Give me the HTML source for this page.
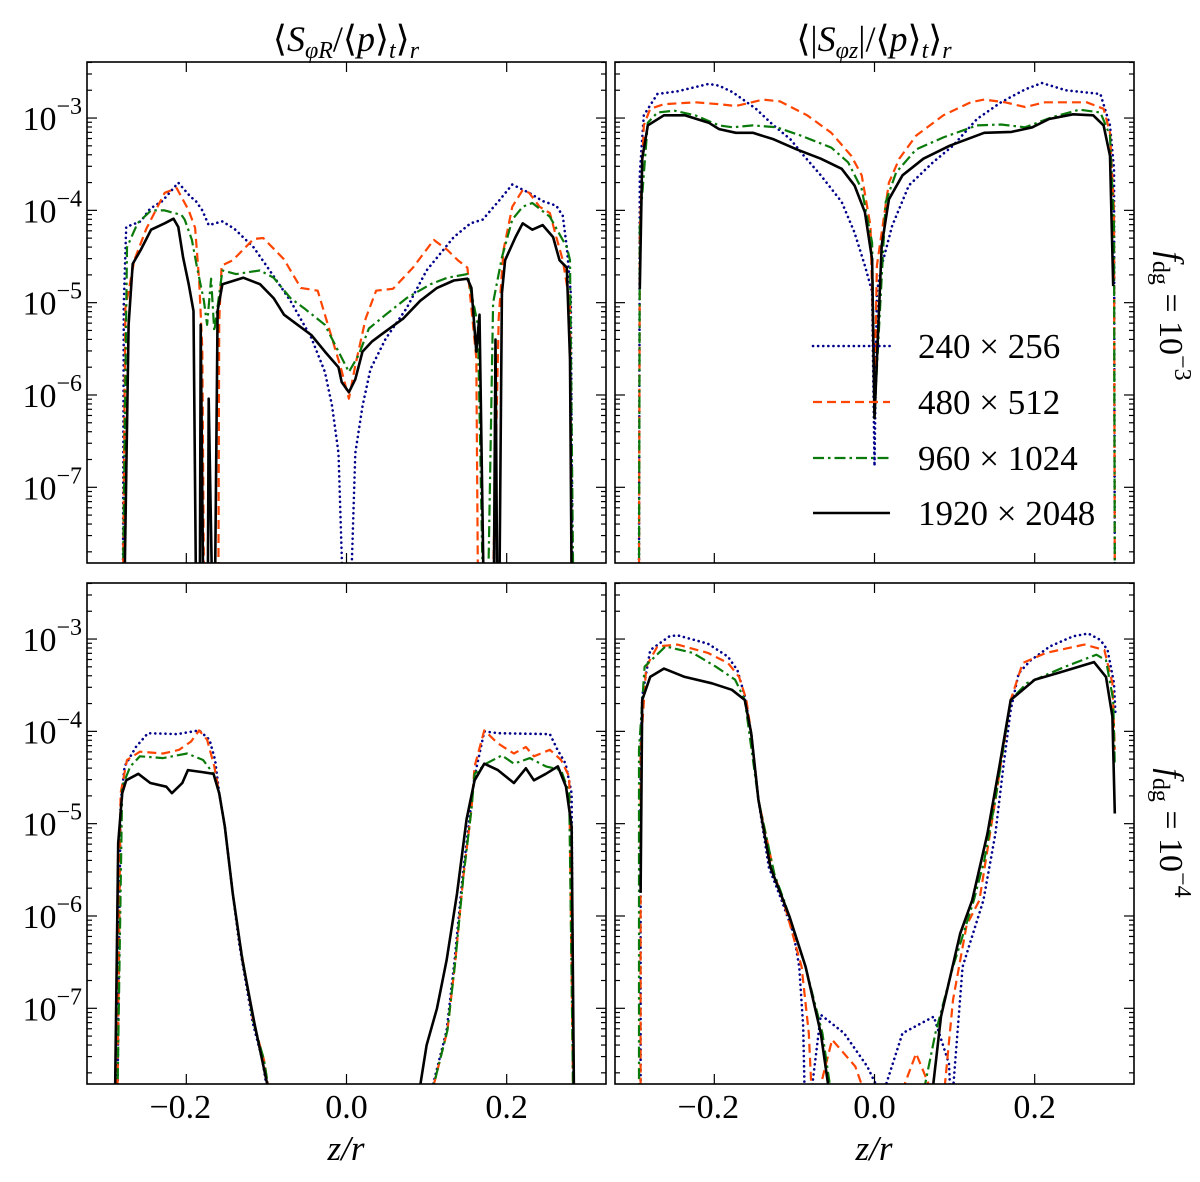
<!DOCTYPE html>
<html><head><meta charset="utf-8"><style>
html,body{margin:0;padding:0;background:#fff}
svg{display:block}
svg text{font-family:"Liberation Serif","DejaVu Serif",serif;fill:#000}
</style></head><body>
<svg id="fig" width="1200" height="1182" viewBox="0 0 1200 1182" font-family="'Liberation Serif', 'DejaVu Serif', serif" xmlns="http://www.w3.org/2000/svg"></svg>
<script>
// ---- data (z/r, log10 value) ----
const xTicks = [-0.2, 0.0, 0.2];
const xTickLabels = ["\u22120.2", "0.0", "0.2"];
const yDecades = [-3, -4, -5, -6, -7];
const seriesNames = ["240 \u00d7 256", "480 \u00d7 512", "960 \u00d7 1024", "1920 \u00d7 2048"];

const tlBlue = [[-0.279,-8],[-0.278,-5.0],[-0.275,-4.18],[-0.257,-4.12],[-0.245,-3.98],[-0.23,-3.9],[-0.21,-3.70],[-0.195,-3.85],[-0.188,-3.90],[-0.18,-4.0],[-0.172,-4.16],[-0.155,-4.12],[-0.14,-4.2],[-0.116,-4.40],[-0.1,-4.6],[-0.07,-4.98],[-0.044,-5.38],[-0.027,-5.75],[-0.018,-6.12],[-0.01,-6.63],[-0.005,-8],[0.006,-8],[0.011,-6.63],[0.02,-6.12],[0.03,-5.72],[0.049,-5.39],[0.075,-5.06],[0.1,-4.65],[0.134,-4.29],[0.155,-4.14],[0.17,-4.10],[0.19,-3.9],[0.207,-3.72],[0.228,-3.81],[0.245,-3.9],[0.262,-3.95],[0.27,-4.06],[0.275,-4.4],[0.28,-4.9],[0.282,-8]];
const tlRed = [[-0.279,-8],[-0.276,-5.06],[-0.265,-4.54],[-0.25,-4.2],[-0.227,-3.81],[-0.212,-3.76],[-0.197,-4.0],[-0.189,-4.19],[-0.184,-4.75],[-0.18,-5.5],[-0.178,-8],[-0.16,-8],[-0.159,-5.2],[-0.156,-4.6],[-0.142,-4.54],[-0.116,-4.31],[-0.104,-4.30],[-0.078,-4.53],[-0.057,-4.84],[-0.036,-4.87],[-0.018,-5.39],[-0.006,-5.74],[0.003,-6.04],[0.011,-5.68],[0.024,-5.17],[0.037,-4.87],[0.058,-4.85],[0.083,-4.62],[0.109,-4.32],[0.126,-4.43],[0.139,-4.54],[0.151,-4.62],[0.162,-5.6],[0.164,-8],[0.183,-8],[0.19,-5.17],[0.196,-4.43],[0.207,-3.96],[0.22,-3.78],[0.228,-3.81],[0.241,-3.96],[0.254,-4.03],[0.262,-4.29],[0.27,-4.54],[0.279,-5.02],[0.281,-8]];
const tlGreen = [[-0.279,-8],[-0.274,-4.40],[-0.261,-4.14],[-0.244,-4.0],[-0.227,-4.0],[-0.206,-4.05],[-0.202,-4.10],[-0.193,-4.32],[-0.187,-4.60],[-0.178,-4.98],[-0.174,-5.24],[-0.169,-4.74],[-0.165,-5.31],[-0.155,-4.65],[-0.138,-4.69],[-0.108,-4.65],[-0.091,-4.73],[-0.07,-4.95],[-0.053,-5.06],[-0.027,-5.24],[-0.01,-5.53],[0.003,-5.75],[0.015,-5.57],[0.028,-5.28],[0.049,-5.13],[0.075,-4.95],[0.105,-4.80],[0.126,-4.73],[0.151,-4.69],[0.164,-5.24],[0.17,-8],[0.177,-8],[0.183,-5.0],[0.194,-4.51],[0.207,-4.10],[0.22,-3.96],[0.232,-3.92],[0.254,-4.07],[0.275,-4.40],[0.279,-4.54],[0.283,-8]];
const tlBlack = [[-0.277,-8],[-0.272,-5.24],[-0.267,-4.58],[-0.257,-4.43],[-0.244,-4.21],[-0.227,-4.14],[-0.216,-4.09],[-0.21,-4.18],[-0.204,-4.51],[-0.197,-4.80],[-0.191,-5.09],[-0.188,-8],[-0.183,-8],[-0.182,-5.24],[-0.179,-8],[-0.173,-8],[-0.172,-6.04],[-0.168,-8],[-0.164,-8],[-0.161,-5.09],[-0.155,-4.80],[-0.129,-4.73],[-0.108,-4.80],[-0.091,-4.95],[-0.078,-5.13],[-0.061,-5.24],[-0.044,-5.35],[-0.027,-5.53],[-0.01,-5.70],[-0.006,-5.86],[0.003,-5.97],[0.011,-5.83],[0.02,-5.53],[0.032,-5.42],[0.049,-5.31],[0.071,-5.17],[0.092,-4.98],[0.113,-4.84],[0.134,-4.76],[0.151,-4.74],[0.156,-4.84],[0.162,-5.53],[0.166,-5.13],[0.171,-8],[0.184,-8],[0.186,-5.4],[0.188,-8],[0.191,-8],[0.194,-4.9],[0.198,-4.54],[0.211,-4.29],[0.22,-4.14],[0.232,-4.21],[0.245,-4.16],[0.258,-4.29],[0.266,-4.54],[0.275,-4.62],[0.279,-5.61],[0.281,-8]];

const trBlue = [[-0.294,-8],[-0.293,-3.6],[-0.288,-2.97],[-0.271,-2.74],[-0.246,-2.71],[-0.207,-2.63],[-0.194,-2.65],[-0.177,-2.72],[-0.148,-2.90],[-0.126,-3.08],[-0.105,-3.23],[-0.088,-3.41],[-0.067,-3.62],[-0.041,-3.91],[-0.025,-4.24],[-0.012,-4.60],[-0.003,-4.88],[0,-6.77],[0.003,-4.88],[0.009,-4.60],[0.022,-4.17],[0.043,-3.73],[0.073,-3.48],[0.098,-3.30],[0.128,-3.01],[0.158,-2.83],[0.188,-2.69],[0.209,-2.62],[0.239,-2.70],[0.282,-2.74],[0.294,-3.08],[0.299,-3.55],[0.300,-8]];
const trRed = [[-0.294,-8],[-0.293,-4.24],[-0.288,-3.08],[-0.280,-2.90],[-0.263,-2.85],[-0.224,-2.83],[-0.194,-2.85],[-0.173,-2.87],[-0.139,-2.80],[-0.118,-2.82],[-0.084,-2.97],[-0.054,-3.16],[-0.029,-3.41],[-0.016,-3.62],[-0.005,-4.17],[0,-6.0],[0.003,-4.6],[0.018,-3.70],[0.031,-3.44],[0.052,-3.19],[0.086,-2.97],[0.120,-2.83],[0.137,-2.80],[0.163,-2.83],[0.188,-2.88],[0.213,-2.83],[0.265,-2.83],[0.286,-2.90],[0.294,-3.16],[0.299,-4.0],[0.300,-8]];
const trGreen = [[-0.294,-8],[-0.293,-4.17],[-0.283,-3.05],[-0.271,-2.94],[-0.250,-2.92],[-0.224,-2.97],[-0.194,-3.08],[-0.177,-3.10],[-0.152,-3.08],[-0.122,-3.10],[-0.092,-3.19],[-0.054,-3.32],[-0.033,-3.48],[-0.016,-3.77],[-0.003,-4.35],[0,-6.2],[0.014,-3.91],[0.027,-3.59],[0.052,-3.34],[0.086,-3.21],[0.128,-3.08],[0.158,-3.07],[0.188,-3.10],[0.222,-2.99],[0.256,-2.91],[0.282,-2.94],[0.294,-3.19],[0.299,-4.17],[0.300,-8]];
const trBlack = [[-0.293,-4.85],[-0.290,-3.44],[-0.283,-3.08],[-0.263,-2.97],[-0.237,-2.97],[-0.207,-3.05],[-0.194,-3.12],[-0.173,-3.16],[-0.152,-3.16],[-0.126,-3.23],[-0.097,-3.34],[-0.067,-3.44],[-0.041,-3.55],[-0.025,-3.73],[-0.012,-4.02],[-0.003,-4.53],[0,-6.25],[0.009,-4.38],[0.018,-3.88],[0.035,-3.62],[0.061,-3.44],[0.094,-3.30],[0.137,-3.16],[0.171,-3.15],[0.197,-3.10],[0.218,-3.01],[0.248,-2.96],[0.273,-2.97],[0.286,-3.08],[0.294,-3.41],[0.298,-4.82]];

const blBlue = [[-0.286,-8],[-0.282,-4.78],[-0.277,-4.38],[-0.263,-4.17],[-0.248,-4.02],[-0.211,-4.03],[-0.184,-3.99],[-0.171,-4.09],[-0.164,-4.31],[-0.159,-4.67],[-0.152,-5.03],[-0.142,-5.76],[-0.134,-6.30],[-0.117,-7.16],[-0.105,-7.56],[-0.097,-8],[0.103,-8],[0.125,-7.24],[0.135,-6.48],[0.1449,-5.57],[0.1548,-4.85],[0.1598,-4.49],[0.1647,-4.3],[0.172,-4.0],[0.1894,-4.02],[0.254,-4.03],[0.2635,-4.2],[0.2735,-4.35],[0.281,-4.67],[0.2833,-8]];
const blRed = [[-0.286,-8],[-0.282,-4.67],[-0.274,-4.31],[-0.258,-4.22],[-0.229,-4.24],[-0.209,-4.20],[-0.194,-4.11],[-0.184,-3.99],[-0.174,-4.09],[-0.165,-4.38],[-0.159,-4.67],[-0.152,-5.03],[-0.142,-5.76],[-0.133,-6.30],[-0.116,-7.16],[-0.103,-7.56],[-0.095,-8],[0.104,-8],[0.126,-7.24],[0.136,-6.48],[0.146,-5.57],[0.156,-4.85],[0.16,-4.38],[0.172,-3.99],[0.189,-4.13],[0.209,-4.24],[0.224,-4.17],[0.234,-4.27],[0.254,-4.20],[0.268,-4.31],[0.278,-4.49],[0.283,-8]];
const blGreen = [[-0.286,-8],[-0.28,-4.60],[-0.27,-4.38],[-0.258,-4.27],[-0.229,-4.29],[-0.199,-4.24],[-0.179,-4.31],[-0.166,-4.46],[-0.159,-4.67],[-0.152,-5.03],[-0.142,-5.76],[-0.133,-6.30],[-0.116,-7.16],[-0.103,-7.56],[-0.095,-8],[0.104,-8],[0.126,-7.24],[0.136,-6.48],[0.146,-5.57],[0.156,-4.85],[0.16,-4.46],[0.174,-4.35],[0.194,-4.26],[0.209,-4.35],[0.229,-4.29],[0.249,-4.38],[0.268,-4.42],[0.278,-4.67],[0.283,-8]];
const blBlack = [[-0.289,-8],[-0.285,-5.21],[-0.280,-4.67],[-0.275,-4.53],[-0.260,-4.46],[-0.245,-4.56],[-0.225,-4.60],[-0.218,-4.67],[-0.205,-4.56],[-0.198,-4.42],[-0.181,-4.44],[-0.166,-4.46],[-0.159,-4.67],[-0.152,-5.03],[-0.142,-5.76],[-0.13,-6.48],[-0.115,-7.16],[-0.099,-7.82],[-0.096,-8],[0.089,-8],[0.1,-7.4],[0.113,-7.0],[0.125,-6.48],[0.138,-5.76],[0.15,-4.95],[0.16,-4.53],[0.172,-4.35],[0.189,-4.42],[0.209,-4.56],[0.224,-4.40],[0.234,-4.53],[0.249,-4.46],[0.264,-4.38],[0.274,-4.60],[0.281,-5.03],[0.284,-8]];

const brBlue = [[-0.292,-8],[-0.292,-4.20],[-0.290,-3.62],[-0.280,-3.12],[-0.256,-2.97],[-0.246,-2.96],[-0.208,-3.05],[-0.183,-3.19],[-0.171,-3.34],[-0.162,-3.62],[-0.154,-4.02],[-0.145,-4.74],[-0.132,-5.47],[-0.116,-5.83],[-0.101,-6.19],[-0.094,-6.55],[-0.089,-7.2],[-0.087,-8],[-0.08,-8],[-0.067,-7.07],[-0.038,-7.27],[-0.009,-7.63],[0.001,-7.81],[0.003,-8],[0.008,-8],[0.035,-7.27],[0.074,-7.09],[0.093,-7.6],[0.095,-8],[0.097,-8],[0.110,-6.55],[0.136,-5.83],[0.151,-5.11],[0.161,-4.38],[0.170,-3.77],[0.180,-3.37],[0.195,-3.23],[0.219,-3.08],[0.248,-2.97],[0.267,-2.94],[0.282,-3.01],[0.291,-3.12],[0.299,-3.48],[0.301,-3.84]];
const brRed = [[-0.292,-8],[-0.292,-4.20],[-0.285,-3.30],[-0.271,-3.08],[-0.246,-3.06],[-0.208,-3.15],[-0.183,-3.26],[-0.169,-3.41],[-0.160,-3.66],[-0.154,-4.02],[-0.145,-4.74],[-0.125,-5.55],[-0.110,-5.95],[-0.091,-6.55],[-0.082,-7.27],[-0.078,-8],[-0.072,-8],[-0.053,-7.34],[-0.024,-7.63],[-0.009,-8],[0.030,-8],[0.052,-7.49],[0.076,-8],[0.086,-8],[0.098,-6.91],[0.115,-6.1],[0.131,-5.83],[0.151,-4.74],[0.170,-3.66],[0.185,-3.26],[0.214,-3.15],[0.262,-3.06],[0.287,-3.12],[0.297,-3.48],[0.300,-4.20]];
const brGreen = [[-0.294,-8],[-0.294,-4.20],[-0.287,-3.30],[-0.261,-3.08],[-0.227,-3.15],[-0.198,-3.30],[-0.174,-3.44],[-0.162,-3.66],[-0.145,-4.74],[-0.125,-5.55],[-0.113,-5.83],[-0.086,-6.55],[-0.065,-7.27],[-0.053,-8],[0.059,-8],[0.076,-7.27],[0.098,-6.55],[0.124,-5.83],[0.137,-5.4],[0.151,-4.74],[0.170,-3.66],[0.190,-3.48],[0.238,-3.30],[0.277,-3.17],[0.289,-3.23],[0.298,-3.66],[0.300,-4.38]];
const brBlack = [[-0.292,-5.75],[-0.290,-3.66],[-0.280,-3.41],[-0.263,-3.32],[-0.237,-3.41],[-0.203,-3.48],[-0.178,-3.55],[-0.162,-3.66],[-0.154,-4.02],[-0.145,-4.74],[-0.130,-5.47],[-0.106,-6.01],[-0.086,-6.55],[-0.067,-7.27],[-0.055,-8],[0.071,-8],[0.083,-7.09],[0.107,-6.19],[0.122,-5.83],[0.141,-5.11],[0.156,-4.38],[0.170,-3.66],[0.200,-3.44],[0.228,-3.37],[0.274,-3.25],[0.289,-3.41],[0.297,-3.84],[0.300,-4.89]];

// ---- layout ----
const NS = "http://www.w3.org/2000/svg";
const svg = document.getElementById("fig");
const X_MIN = -0.324, X_MAX = 0.324, Y_MIN = -7.82, Y_MAX = -2.393;
const FONT = "'Liberation Serif', 'DejaVu Serif', serif";
const styles = [
  {c:"#00008b", w:2.6, d:"0.1 5", cap:"round"},
  {c:"#ff4500", w:2.2, d:"9 5", cap:"butt"},
  {c:"#0a7a0a", w:2.2, d:"11 4 2.5 4", cap:"butt"},
  {c:"#000000", w:2.6, d:"", cap:"butt"}
];
const panels = [
  {name:"top-left", x0:87, x1:606, y0:62, y1:563, data:[tlBlue,tlRed,tlGreen,tlBlack], ylab:true, xlab:false},
  {name:"top-right", x0:615, x1:1134, y0:62, y1:563, data:[trBlue,trRed,trGreen,trBlack], ylab:false, xlab:false},
  {name:"bottom-left", x0:87, x1:606, y0:583, y1:1084, data:[blBlue,blRed,blGreen,blBlack], ylab:true, xlab:true},
  {name:"bottom-right", x0:615, x1:1134, y0:583, y1:1084, data:[brBlue,brRed,brGreen,brBlack], ylab:false, xlab:true}
];
function mk(tag, attrs, parent){ const e=document.createElementNS(NS,tag); for(const k in attrs) e.setAttribute(k,attrs[k]); if(tag==="text") e.setAttribute("font-family",FONT); (parent||svg).appendChild(e); return e; }
const defs = mk("defs",{});

panels.forEach((p,pi)=>{
  const sx = z => p.x0 + (z - X_MIN)/(X_MAX - X_MIN)*(p.x1 - p.x0);
  const sy = v => p.y1 - (v - Y_MIN)/(Y_MAX - Y_MIN)*(p.y1 - p.y0);
  const g = mk("g",{});
  
  
  const cp = mk("clipPath",{id:"clip"+pi}, defs);
  mk("rect",{x:p.x0,y:p.y0,width:p.x1-p.x0,height:p.y1-p.y0}, cp);
  const sg = mk("g",{"clip-path":"url(#clip"+pi+")"}, g);
  p.data.forEach((ser,si)=>{
    const st = styles[si];
    const d = ser.map((pt,i)=>(i?"L":"M")+sx(pt[0]).toFixed(1)+","+sy(Math.max(pt[1],-8.5)).toFixed(1)).join("");
    const path = mk("path",{d:d, fill:"none", stroke:st.c, "stroke-width":st.w, "stroke-dasharray":st.d, "stroke-linecap":st.cap, "stroke-linejoin":"round"}, sg);
    
    
  });
  const fr = mk("rect",{x:p.x0,y:p.y0,width:p.x1-p.x0,height:p.y1-p.y0,fill:"none",stroke:"#000","stroke-width":1.6}, g);
  
  
  for(let dec=-8; dec<=-3; dec++){
    for(let m=1;m<=9;m++){
      const v = dec + Math.log10(m);
      if(v < Y_MIN || v > Y_MAX) continue;
      const y = sy(v), L = m===1?10:5;
      mk("line",{x1:p.x0,x2:p.x0+L,y1:y,y2:y,stroke:"#000","stroke-width":1.2}, g);
      mk("line",{x1:p.x1,x2:p.x1-L,y1:y,y2:y,stroke:"#000","stroke-width":1.2}, g);
    }
  }
  yDecades.forEach(dec=>{
    if(!p.ylab) return;
    const y = sy(dec);
    const t = mk("text",{x:82, y:y+12, "text-anchor":"end", "font-size":34}, g);
    
    
    t.appendChild(document.createTextNode("10"));
    const sp = mk("tspan",{dy:-16, "font-size":24}, t);
    sp.textContent = "\u2212" + (-dec);
  });
  xTicks.forEach((z,i)=>{
    const x = sx(z);
    mk("line",{x1:x,x2:x,y1:p.y0,y2:p.y0+10,stroke:"#000","stroke-width":1.2}, g);
    mk("line",{x1:x,x2:x,y1:p.y1,y2:p.y1-10,stroke:"#000","stroke-width":1.2}, g);
    if(p.xlab){
      const t = mk("text",{x:x + (i===0?-6:0), y:1118, "text-anchor":"middle", "font-size":34}, g);
      
      
      t.textContent = xTickLabels[i];
    }
  });
});

function title(x, html, name){
  const t = mk("text",{x:x, y:51, "text-anchor":"middle", "font-size":36});
  
  
  t.innerHTML = html;
}
title(346, '\u27e8<tspan font-style="italic">S</tspan><tspan font-size="24" dy="7" font-style="italic">\u03c6R</tspan><tspan dy="-7">/\u27e8</tspan><tspan font-style="italic">p</tspan>\u27e9<tspan font-size="24" dy="7" font-style="italic">t</tspan><tspan dy="-7">\u27e9</tspan><tspan font-size="24" dy="7" font-style="italic">r</tspan>', 'left-column-title');
title(874, '\u27e8|<tspan font-style="italic">S</tspan><tspan font-size="24" dy="7" font-style="italic">\u03c6z</tspan><tspan dy="-7">|/\u27e8</tspan><tspan font-style="italic">p</tspan>\u27e9<tspan font-size="24" dy="7" font-style="italic">t</tspan><tspan dy="-7">\u27e9</tspan><tspan font-size="24" dy="7" font-style="italic">r</tspan>', 'right-column-title');

[346, 874].forEach((x,i)=>{
  const t = mk("text",{x:x, y:1160, "text-anchor":"middle", "font-size":35, "font-style":"italic"});
  
  
  t.textContent = "z/r";
});

[[316,"3"],[833,"4"]].forEach(([cy,e])=>{
  const t = mk("text",{x:0, y:0, "text-anchor":"middle", "font-size":34, transform:"translate(1160,"+cy+") rotate(90)"});
  
  
  t.innerHTML = '<tspan font-style="italic">f</tspan><tspan font-size="24" dy="7">dg</tspan><tspan dy="-7"> = 10</tspan><tspan font-size="24" dy="-15">\u2212' + e + '</tspan>';
});

const legYs = [346, 402, 458, 513];
seriesNames.forEach((nm,i)=>{
  const st = styles[i];
  const g = mk("g",{});
  
  
  mk("line",{x1:813,x2:890,y1:legYs[i],y2:legYs[i],stroke:st.c,"stroke-width":st.w,"stroke-dasharray":st.d,"stroke-linecap":st.cap}, g);
  const t = mk("text",{x:918, y:legYs[i]+12, "font-size":35}, g);
  t.textContent = nm;
});
</script>
</body></html>
